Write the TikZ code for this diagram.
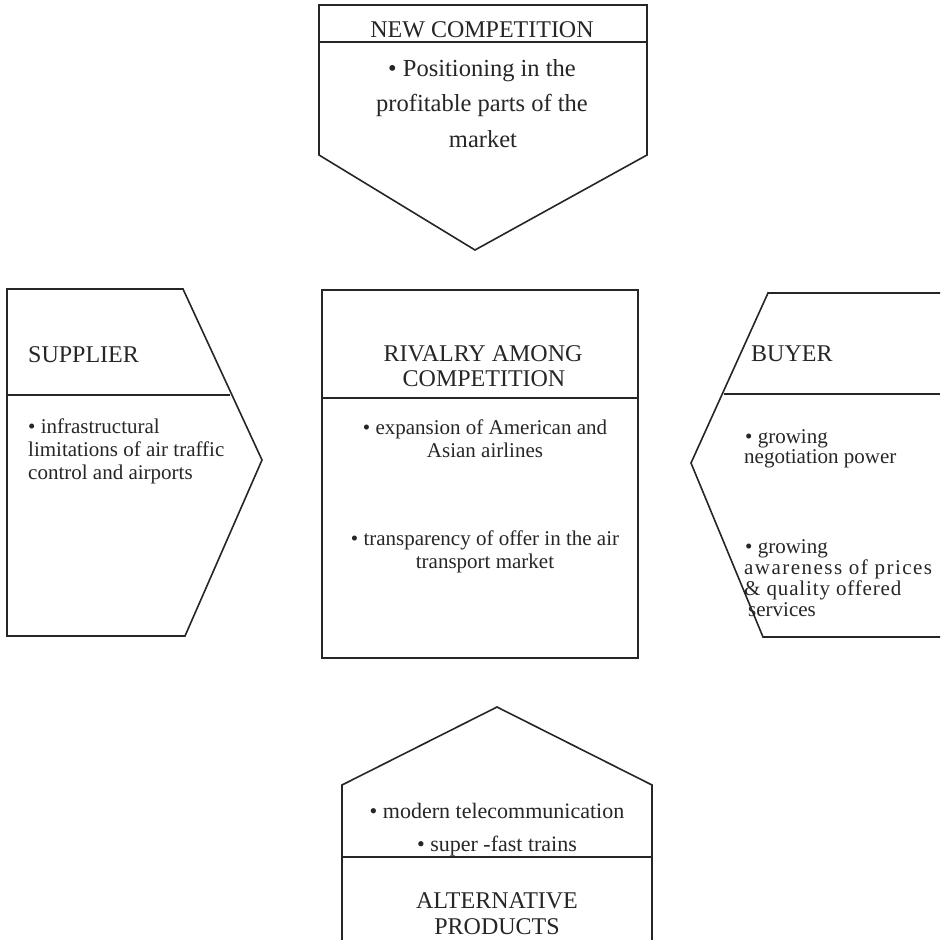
\documentclass[tikz,border=0pt]{standalone}
\usepackage{fontspec}
\setmainfont{Liberation Serif}
\begin{document}
\begin{tikzpicture}[x=1pt,y=-1pt,
  outl/.style={draw=black!85, line width=1.6pt, line join=miter},
  hd/.style={font=\fontsize{24}{28}\selectfont, inner sep=0pt, text=black!85},
  bd/.style={font=\fontsize{21}{23}\selectfont, inner sep=0pt, text=black!85},
  bdl/.style={font=\fontsize{24.5}{28}\selectfont, inner sep=0pt, text=black!85},
  bdm/.style={font=\fontsize{22}{26}\selectfont, inner sep=0pt, text=black!85}]
\fill[white] (0,0) rectangle (940,940);
\useasboundingbox (0,0) rectangle (940,940);

% top: new competition
\draw[outl] (319,155) -- (319,5) -- (647,5) -- (647,155) -- (475,250) -- cycle;
\draw[outl] (319,42) -- (647,42);
\node[hd, anchor=base] (nct) at (482,37) {NEW COMPETITION};
\node[bdl, anchor=base] (nc1) at (482,76) {• Positioning in the};
\node[bdl, anchor=base] (nc2) at (482,111) {profitable parts of the};
\node[bdl, anchor=base] (nc3) at (483,147) {market};

% left: supplier
\draw[outl] (7,289) -- (183,289) -- (262,460) -- (185,636) -- (7,636) -- cycle;
\draw[outl] (7,395) -- (230,395);
\node[hd, anchor=base west] (sut) at (28,362) {SUPPLIER};
\node[bd, anchor=base west] (su1) at (28,433) {• infrastructural};
\node[bd, anchor=base west] (su2) at (28,456) {limitations of air traffic};
\node[bd, anchor=base west] (su3) at (28,479) {control and airports};

% center: rivalry
\draw[outl] (322,290) rectangle (638,658);
\draw[outl] (322,398) -- (638,398);
\node[hd, anchor=base] (rvt1) at (483,361) {RIVALRY AMONG};
\node[hd, anchor=base] (rvt2) at (484,386) {COMPETITION};
\node[bd, anchor=base] (rv1) at (485,434) {• expansion of American and};
\node[bd, anchor=base] (rv2) at (485,457) {Asian airlines};
\node[bd, anchor=base] (rv3) at (485,545) {• transparency of offer in the air};
\node[bd, anchor=base] (rv4) at (485,568) {transport market};

% right: buyer
\draw[outl] (940,293) -- (768,293) -- (691,463) -- (763,637) -- (940,637);
\draw[outl] (724,394) -- (940,394);
\node[hd, anchor=base west] (byt) at (751,361) {BUYER};
\node[bd, anchor=base west] (by1) at (745,443) {• growing};
\node[bd, anchor=base west] (by2) at (744,463) {negotiation power};
\node[bd, anchor=base west] (by3) at (745,553) {• growing};
\node[bd, anchor=base west] (by4) at (744,574) {\addfontfeature{LetterSpace=7}awareness of prices};
\node[bd, anchor=base west] (by5) at (744,595) {\addfontfeature{LetterSpace=4}\& quality offered};
\node[bd, anchor=base west] (by6) at (748,616) {services};

% bottom: alternative products
\draw[outl] (342,940) -- (342,785) -- (497,707) -- (652,785) -- (652,940);
\draw[outl] (342,857) -- (652,857);
\node[bdm, anchor=base] (ap1) at (497,818) {• modern telecommunication};
\node[bdm, anchor=base] (ap2) at (497,851) {• super -fast trains};
\node[hd, anchor=base] (apt1) at (497,908) {ALTERNATIVE};
\node[hd, anchor=base] (apt2) at (497,934) {PRODUCTS};
\end{tikzpicture}
\end{document}
